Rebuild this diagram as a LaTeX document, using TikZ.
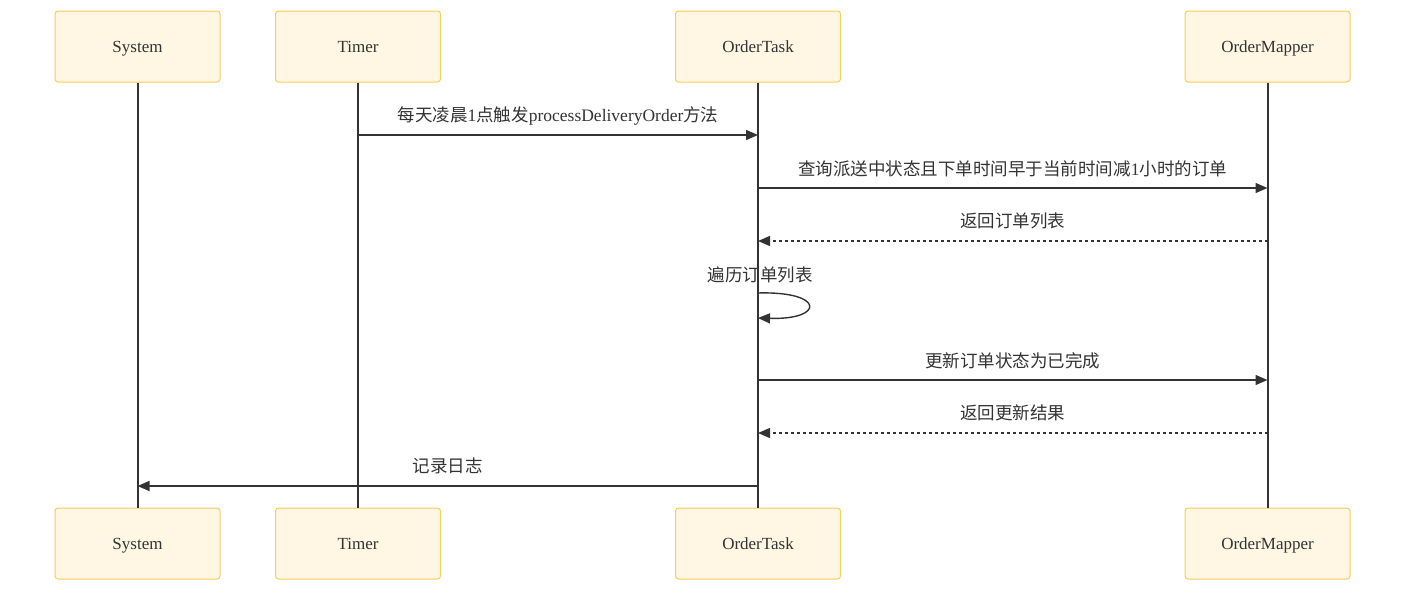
\documentclass[tikz,border=0pt]{standalone}
\usepackage{fontspec}
\setmainfont{Liberation Serif}
\newfontfamily\cjk{Noto Sans CJK SC}
\usetikzlibrary{arrows.meta,calc}
\definecolor{actorFill}{HTML}{FFF7E3}
\definecolor{actorLine}{HTML}{F7CD55}
\definecolor{inkGray}{HTML}{333333}
\newcommand{\zh}[1]{{\cjk #1}}

\begin{document}
\begin{tikzpicture}[
    x=1pt, y=-1pt,
    actor/.style={rectangle, draw=actorLine, fill=actorFill, rounded corners=3pt, line width=1pt,
        minimum width=165pt, minimum height=71pt, text height=16pt, text depth=4pt,
        font=\fontsize{17}{20}\selectfont, text=inkGray},
    life/.style={draw=inkGray, line width=2pt},
    msg/.style={draw=inkGray, line width=1.4pt, -{Triangle[length=12pt,width=10pt]}},
    reply/.style={msg, dash pattern=on 3pt off 3pt},
    lbl/.style={font=\fontsize{17.5}{20}\selectfont, text=inkGray, inner sep=0pt}
]
    \useasboundingbox (0,0) rectangle (1406,592);

    % Actors (top)
    \node[actor] (sysT) at (137.5,46.5) {System};
    \node[actor] (timerT) at (358,46.5) {Timer};
    \node[actor] (taskT) at (758,46.5) {OrderTask};
    \node[actor] (mapperT) at (1267.5,46.5) {OrderMapper};

    % Actors (bottom)
    \node[actor] (sysB) at (137.5,543.5) {System};
    \node[actor] (timerB) at (358,543.5) {Timer};
    \node[actor] (taskB) at (758,543.5) {OrderTask};
    \node[actor] (mapperB) at (1267.5,543.5) {OrderMapper};

    % Lifelines
    \draw[life] (sysT) -- (sysB);
    \draw[life] (timerT) -- (timerB);
    \draw[life] (taskT) -- (taskB);
    \draw[life] (mapperT) -- (mapperB);

    % Message levels
    \coordinate (m1) at (0,135);
    \coordinate (m2) at (0,188);
    \coordinate (m3) at (0,241);
    \coordinate (m4a) at (0,293);
    \coordinate (m4b) at (0,318);
    \coordinate (m5) at (0,380);
    \coordinate (m6) at (0,433);
    \coordinate (m7) at (0,486);

    % Messages
    \draw[msg] (timerT |- m1) -- (taskT |- m1);
    \node[lbl] at ($(timerT |- m1)!0.5!(taskT |- m1)+(0,-19)$)
        {\zh{每天凌晨}1\zh{点触发}processDeliveryOrder\zh{方法}};

    \draw[msg] (taskT |- m2) -- (mapperT |- m2);
    \node[lbl] at ($(taskT |- m2)!0.5!(mapperT |- m2)+(0,-19)$)
        {\zh{查询派送中状态且下单时间早于当前时间减}1\zh{小时的订单}};

    \draw[reply] (mapperT |- m3) -- (taskT |- m3);
    \node[lbl] at ($(taskT |- m3)!0.5!(mapperT |- m3)+(0,-20)$) {\zh{返回订单列表}};

    % Self call
    \draw[msg] (taskT |- m4a) .. controls +(67,-2) and +(67,2) .. (taskT |- m4b);
    \node[lbl] at ($(taskT |- m4a)+(2,-18)$) {\zh{遍历订单列表}};

    \draw[msg] (taskT |- m5) -- (mapperT |- m5);
    \node[lbl] at ($(taskT |- m5)!0.5!(mapperT |- m5)+(0,-19)$) {\zh{更新订单状态为已完成}};

    \draw[reply] (mapperT |- m6) -- (taskT |- m6);
    \node[lbl] at ($(taskT |- m6)!0.5!(mapperT |- m6)+(0,-20)$) {\zh{返回更新结果}};

    \draw[msg] (taskT |- m7) -- (sysT |- m7);
    \node[lbl] at ($(sysT |- m7)!0.5!(taskT |- m7)+(0,-20)$) {\zh{记录日志}};
\end{tikzpicture}
\end{document}
